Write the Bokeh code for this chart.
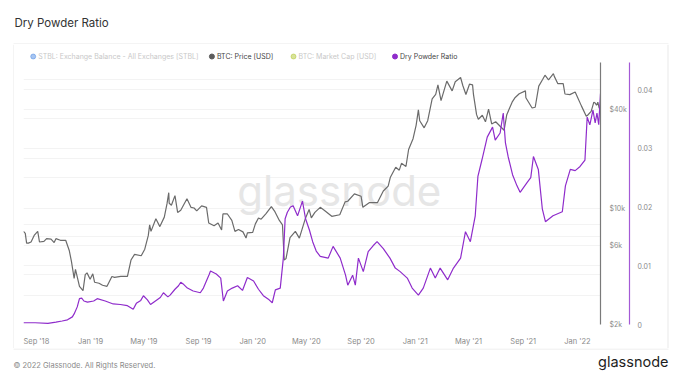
import pandas as pd
from bokeh.plotting import figure
from bokeh.layouts import column, row
from bokeh.models import (Range1d, LinearAxis, LinearScale, FixedTicker, DatetimeTickFormatter,
                          Label, Grid)
from bokeh.embed import file_html
from bokeh.resources import INLINE

# ---------------- data ----------------
price_dates = [
    "2018-08-03", "2018-08-07", "2018-08-10", "2018-08-14", "2018-08-20", "2018-08-27", "2018-09-04",
    "2018-09-08", "2018-09-18", "2018-09-24", "2018-10-04", "2018-10-11", "2018-10-15", "2018-10-25",
    "2018-11-06", "2018-11-14", "2018-11-19", "2018-11-25", "2018-11-28", "2018-12-07", "2018-12-15",
    "2018-12-20", "2018-12-24", "2018-12-31", "2019-01-06", "2019-01-10", "2019-01-20", "2019-01-28",
    "2019-02-07", "2019-02-18", "2019-02-24", "2019-03-10", "2019-03-25", "2019-04-02", "2019-04-10",
    "2019-04-25", "2019-05-03", "2019-05-11", "2019-05-14", "2019-05-17", "2019-05-28", "2019-06-06",
    "2019-06-16", "2019-06-22", "2019-06-26", "2019-06-27", "2019-07-02", "2019-07-10", "2019-07-16",
    "2019-07-23", "2019-08-06", "2019-08-15", "2019-08-22", "2019-08-28", "2019-09-08", "2019-09-19",
    "2019-09-24", "2019-10-06", "2019-10-15", "2019-10-23", "2019-10-26", "2019-11-05", "2019-11-15",
    "2019-11-22", "2019-11-30", "2019-12-10", "2019-12-17", "2019-12-20", "2020-01-01", "2020-01-07",
    "2020-01-14", "2020-01-20", "2020-01-31", "2020-02-12", "2020-02-20", "2020-03-01", "2020-03-08",
    "2020-03-12", "2020-03-16", "2020-03-25", "2020-04-06", "2020-04-15", "2020-04-29", "2020-05-07",
    "2020-05-12", "2020-05-20", "2020-06-01", "2020-06-10", "2020-06-27", "2020-07-15", "2020-07-27",
    "2020-08-02", "2020-08-17", "2020-09-01", "2020-09-05", "2020-09-20", "2020-10-08", "2020-10-21",
    "2020-11-01", "2020-11-06", "2020-11-18", "2020-11-26", "2020-12-01", "2020-12-11", "2020-12-17",
    "2020-12-27", "2021-01-03", "2021-01-08", "2021-01-11", "2021-01-21", "2021-01-29", "2021-02-08",
    "2021-02-16", "2021-02-21", "2021-02-28", "2021-03-13", "2021-03-25", "2021-04-01", "2021-04-13",
    "2021-04-18", "2021-04-25", "2021-05-03", "2021-05-10", "2021-05-12", "2021-05-19", "2021-05-23",
    "2021-06-01", "2021-06-08", "2021-06-15", "2021-06-22", "2021-07-01", "2021-07-20", "2021-07-26",
    "2021-08-07", "2021-08-14", "2021-08-23", "2021-09-06", "2021-09-07", "2021-09-21", "2021-09-28",
    "2021-10-06", "2021-10-15", "2021-10-20", "2021-10-28", "2021-11-08", "2021-11-10", "2021-11-18",
    "2021-11-30", "2021-12-04", "2021-12-15", "2021-12-27", "2022-01-01", "2022-01-10", "2022-01-21",
    "2022-01-24", "2022-02-01", "2022-02-07", "2022-02-10", "2022-02-13", "2022-02-16", "2022-02-19",
    "2022-02-22",
]
btc_price = [
    7300, 7100, 6200, 6200, 6300, 6900, 7300,
    6300, 6350, 6600, 6550, 6250, 6600, 6450,
    6450, 5600, 4800, 3800, 4300, 3400, 3200,
    4000, 4100, 3750, 4050, 3600, 3550, 3450,
    3400, 3900, 3850, 3900, 3900, 4900, 5300,
    5200, 5700, 6900, 8000, 7300, 8700, 7800,
    8900, 10700, 12500, 10800, 10500, 12000, 9500,
    9800, 11500, 10200, 10100, 9700, 10400, 10200,
    8200, 7900, 8200, 7450, 9300, 9300, 8500,
    7300, 7500, 7250, 6650, 7150, 7200, 8100,
    8800, 8650, 9350, 10300, 9600, 8500, 8000,
    4900, 5000, 6700, 7300, 6650, 8800, 9900,
    8800, 9500, 10200, 9800, 9000, 9200, 11000,
    11100, 12300, 11900, 10200, 10900, 10900, 12800,
    13700, 15500, 17800, 17100, 18800, 18000, 22800,
    26500, 32000, 39500, 34000, 30800, 34000, 46000,
    49000, 56000, 45000, 59000, 51500, 58500, 62000,
    55500, 49000, 56500, 56000, 49000, 37000, 34700,
    36700, 33500, 40000, 32500, 33500, 29800, 37000,
    44000, 47000, 49500, 51500, 46800, 40600, 41000,
    55000, 60500, 64000, 60000, 65500, 63000, 56900,
    57000, 49300, 48900, 50700, 47300, 41800, 36200,
    36700, 38700, 44000, 43500, 42200, 44000, 40500,
    40500,
]

ratio_dates = [
    "2018-08-03", "2018-08-29", "2018-09-27", "2018-10-15", "2018-10-29", "2018-11-10", "2018-11-21",
    "2018-11-25", "2018-12-02", "2018-12-07", "2018-12-12", "2018-12-17", "2018-12-25", "2019-01-08",
    "2019-01-16", "2019-02-03", "2019-02-21", "2019-03-09", "2019-03-25", "2019-04-07", "2019-04-14",
    "2019-04-24", "2019-04-30", "2019-05-09", "2019-05-16", "2019-05-27", "2019-06-07", "2019-06-14",
    "2019-06-24", "2019-06-29", "2019-07-10", "2019-07-18", "2019-07-23", "2019-07-30", "2019-08-07",
    "2019-08-20", "2019-09-05", "2019-09-12", "2019-09-25", "2019-09-28", "2019-10-11", "2019-10-21",
    "2019-10-27", "2019-11-05", "2019-11-16", "2019-11-28", "2019-12-09", "2019-12-20", "2020-01-03",
    "2020-01-14", "2020-01-25", "2020-02-07", "2020-02-14", "2020-02-21", "2020-03-03", "2020-03-10",
    "2020-03-14", "2020-03-19", "2020-03-26", "2020-04-01", "2020-04-11", "2020-04-22", "2020-04-29",
    "2020-05-08", "2020-05-15", "2020-05-23", "2020-06-01", "2020-06-19", "2020-06-30", "2020-07-16",
    "2020-07-28", "2020-08-02", "2020-08-13", "2020-08-19", "2020-08-26", "2020-09-06", "2020-09-17",
    "2020-09-28", "2020-10-07", "2020-10-21", "2020-11-05", "2020-11-17", "2020-11-28", "2020-12-14",
    "2020-12-25", "2021-01-08", "2021-01-19", "2021-02-04", "2021-02-15", "2021-02-26", "2021-03-15",
    "2021-03-28", "2021-04-13", "2021-04-24", "2021-05-05", "2021-05-16", "2021-05-22", "2021-05-31",
    "2021-06-12", "2021-06-24", "2021-06-30", "2021-07-11", "2021-07-18", "2021-07-23", "2021-07-29",
    "2021-08-08", "2021-08-18", "2021-08-25", "2021-09-10", "2021-09-18", "2021-09-24", "2021-10-05",
    "2021-10-14", "2021-10-21", "2021-11-07", "2021-11-28", "2021-12-05", "2021-12-16", "2021-12-27",
    "2022-01-07", "2022-01-18", "2022-01-23", "2022-01-29", "2022-02-05", "2022-02-10", "2022-02-14",
    "2022-02-18", "2022-02-22",
]
dry_powder_ratio = [
    0.0003, 0.0003, 0.0002, 0.0004, 0.0006, 0.0008, 0.0013,
    0.0018, 0.0030, 0.0044, 0.0045, 0.0040, 0.0038, 0.0040,
    0.0044, 0.0040, 0.0035, 0.0034, 0.0032, 0.0026, 0.0036,
    0.0041, 0.0049, 0.0042, 0.0034, 0.0040, 0.0046, 0.0054,
    0.0047, 0.0050, 0.0060, 0.0066, 0.0072, 0.0068, 0.0062,
    0.0057, 0.0054, 0.0062, 0.0085, 0.0091, 0.0086, 0.0079,
    0.0040, 0.0057, 0.0062, 0.0066, 0.0058, 0.0080, 0.0074,
    0.0060, 0.0049, 0.0042, 0.0037, 0.0059, 0.0062, 0.0113,
    0.0180, 0.0191, 0.0200, 0.0202, 0.0185, 0.0210, 0.0180,
    0.0160, 0.0141, 0.0125, 0.0116, 0.0113, 0.0133, 0.0113,
    0.0084, 0.0067, 0.0084, 0.0067, 0.0113, 0.0090, 0.0124,
    0.0134, 0.0141, 0.0129, 0.0113, 0.0096, 0.0090, 0.0079,
    0.0062, 0.0050, 0.0062, 0.0096, 0.0079, 0.0096, 0.0076,
    0.0096, 0.0113, 0.0158, 0.0141, 0.0185, 0.0252, 0.0280,
    0.0319, 0.0336, 0.0314, 0.0326, 0.0360, 0.0309, 0.0286,
    0.0255, 0.0236, 0.0225, 0.0242, 0.0250, 0.0286, 0.0264,
    0.0197, 0.0175, 0.0185, 0.0192, 0.0236, 0.0264, 0.0262,
    0.0269, 0.0280, 0.0353, 0.0340, 0.0365, 0.0343, 0.0360,
    0.0340, 0.0393,
]

x_tick_dates = ["2018-09-01", "2019-01-01", "2019-05-01", "2019-09-01", "2020-01-01", "2020-05-01",
                "2020-09-01", "2021-01-01", "2021-05-01", "2021-09-01", "2022-01-01"]
price_ticks = [2000, 6000, 10000, 40000]
price_tick_labels = ["$2k", "$6k", "$10k", "$40k"]
ratio_ticks = [0, 0.01, 0.02, 0.03, 0.04]
ratio_tick_labels = ["0", "0.01", "0.02", "0.03", "0.04"]

legend_names = ["STBL: Exchange Balance - All Exchanges [STBL]", "BTC: Price [USD]",
                "BTC: Market Cap [USD]", "Dry Powder Ratio"]
legend_active = [False, True, False, True]
legend_colors = ["#3c7fe0", "#5c5c5c", "#a8c21c", "#8f2ccb"]

# ---------------- styling ----------------
FONT = "Inter"
GRAY_LINE = "#6b6b6b"
PURPLE = "#8f2ccb"
TICK_COL = "#8a8a8a"
CARD = "#e9e9e9"


def blank(w, h, x0, x1, y0, y1, bl=0, br=0):
    """Decoration figure; data units are page pixels (y pointing down)."""
    f = figure(width=w, height=h, output_backend="svg", toolbar_location=None,
               x_axis_location=None, y_axis_location=None,
               x_range=Range1d(x0, x1), y_range=Range1d(y1, y0),
               min_border_left=bl, min_border_right=br, min_border_top=0, min_border_bottom=0)
    f.outline_line_color = None
    f.grid.visible = False
    f.background_fill_color = "white"
    f.border_fill_color = "white"
    return f


# ---------- header: title + top edge of the card ----------
head = blank(680, 44, 0, 680, 0, 44)
head.add_layout(Label(x=14, y=22, text="Dry Powder Ratio", text_font=FONT, text_font_size="11.5px",
                      text_color="#333333", text_baseline="middle"))
head.line([13, 668], [43.5, 43.5], line_color=CARD, line_width=1)

# ---------- side edges of the card ----------
left_strip = blank(14, 304, 0, 14, 44, 348)
left_strip.line([13.5, 13.5], [44, 348], line_color=CARD, line_width=1)
right_strip = blank(13, 304, 666, 679, 44, 348)
right_strip.line([667.5, 667.5], [44, 348], line_color=CARD, line_width=1)

# ---------- legend row (frame aligned with the chart frame: page x 23..600) ----------
leg = blank(652, 18, 23, 600, 44, 62, bl=9, br=66)
leg_dot_x = [32.7, 211.4, 293, 394.5]
for xd, name, c, act in zip(leg_dot_x, legend_names, legend_colors, legend_active):
    leg.scatter([xd], [56], size=5, color=c, alpha=1.0 if act else 0.45)
    leg.add_layout(Label(x=xd + 5, y=56, text=name, text_font=FONT, text_font_size="7px",
                         text_color="#444444" if act else "#c8c8c8", text_baseline="middle"))

# ---------- main chart ----------
pd_price = pd.to_datetime(price_dates)
pd_ratio = pd.to_datetime(ratio_dates)

p = figure(width=652, height=286, output_backend="svg", toolbar_location=None,
           x_axis_type="datetime", y_axis_type="log", y_axis_location="right",
           x_range=Range1d(pd.Timestamp("2018-08-03"), pd.Timestamp("2022-02-22")),
           y_range=Range1d(2000, 76400),
           min_border_left=9, min_border_right=66, min_border_top=0, min_border_bottom=21)
p.extra_y_ranges = {"ratio": Range1d(0, 0.0446)}
p.extra_y_scales = {"ratio": LinearScale()}
p.outline_line_color = None
p.background_fill_color = "white"
p.border_fill_color = "white"

p.xgrid.visible = False
p.ygrid.ticker = FixedTicker(ticks=[4000, 6000, 8000, 10000, 20000, 40000, 60000])
p.ygrid.grid_line_color = "#f3f3f3"
rgrid = Grid(dimension=1, y_range_name="ratio",
             ticker=FixedTicker(ticks=[0, 0.005, 0.01, 0.015, 0.025, 0.03, 0.035, 0.04]),
             grid_line_color="#f3f3f3")
p.add_layout(rgrid, "center")

xa = p.xaxis[0]
xa.ticker = FixedTicker(ticks=[pd.Timestamp(d).value / 1e6 for d in x_tick_dates])
fmt = "%b '%y"
xa.formatter = DatetimeTickFormatter(months=fmt, days=fmt, years=fmt, hours=fmt, minutes=fmt,
                                     seconds=fmt, milliseconds=fmt, minsec=fmt, hourmin=fmt)
xa.axis_line_color = None
xa.major_tick_line_color = None
xa.minor_tick_line_color = None
xa.major_label_text_color = TICK_COL
xa.major_label_text_font = FONT
xa.major_label_text_font_size = "7.5px"
xa.major_label_standoff = 6

ya = p.yaxis[0]
ya.ticker = FixedTicker(ticks=price_ticks)
ya.major_label_overrides = {t: l for t, l in zip(price_ticks, price_tick_labels)}
ya.axis_line_color = "#7a7a7a"
ya.axis_line_width = 1.2
ya.major_tick_line_color = None
ya.minor_tick_line_color = None
ya.major_tick_out = 0
ya.major_label_text_color = TICK_COL
ya.major_label_text_font = FONT
ya.major_label_text_font_size = "7px"
ya.major_label_standoff = 9
ya.axis_label_standoff = 0

ra = LinearAxis(y_range_name="ratio", ticker=FixedTicker(ticks=ratio_ticks))
ra.major_label_overrides = {t: l for t, l in zip(ratio_ticks, ratio_tick_labels)}
ra.axis_line_color = "#a45ad6"
ra.axis_line_width = 1.2
ra.major_tick_line_color = None
ra.minor_tick_line_color = None
ra.major_tick_out = 0
ra.major_label_text_color = TICK_COL
ra.major_label_text_font = FONT
ra.major_label_text_font_size = "7px"
ra.major_label_standoff = 8
ra.axis_label_standoff = 0
p.add_layout(ra, "right")

p.add_layout(Label(x=pd.Timestamp("2020-07-14"), y=12800, text="glassnode",
                   text_font=FONT, text_font_size="42px", text_color="#e6e6e6",
                   text_align="center", text_baseline="middle", level="underlay"))

p.line(pd_price, btc_price, line_color=GRAY_LINE, line_width=1.2)
p.line(pd_ratio, dry_powder_ratio, line_color=PURPLE, line_width=1.2, y_range_name="ratio")

# ---------- footer ----------
foot = blank(680, 34, 0, 680, 348, 382)
foot.line([13, 668], [348.5, 348.5], line_color=CARD, line_width=1)
foot.add_layout(Label(x=13, y=365, text="© 2022 Glassnode. All Rights Reserved.", text_font=FONT,
                      text_font_size="7.5px", text_color="#8a8a8a", text_baseline="middle"))
foot.add_layout(Label(x=668, y=361, text="glassnode", text_font=FONT, text_font_size="14.5px",
                      text_color="#1e1e1e", text_align="right", text_baseline="middle"))

layout = column(head, row(left_strip, column(leg, p, spacing=0), right_strip, spacing=0), foot,
                spacing=0)

open("out.html", "w").write(file_html(layout, INLINE))
